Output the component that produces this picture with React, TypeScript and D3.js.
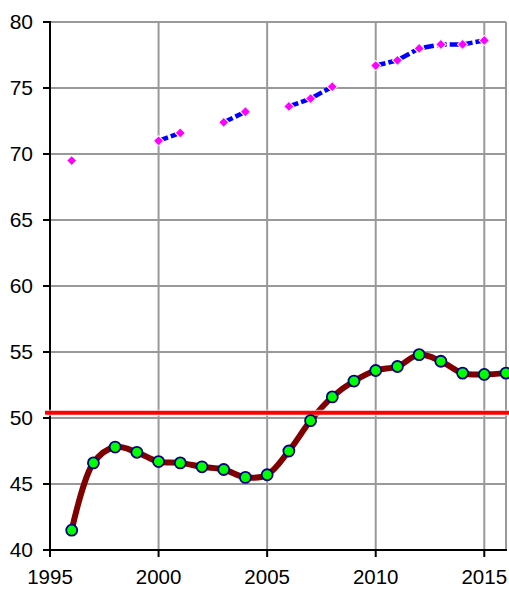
import React from 'react';
import * as d3 from 'd3';

// years on the x axis
const years = d3.range(1996, 2017);
// upper series (pink diamonds), null = no value that year
const upperValues: (number | null)[] = [69.5, null, null, null, 71.0, 71.6, null, 72.4, 73.2, null, 73.6, 74.2, 75.1, null, 76.7, 77.1, 78.0, 78.3, 78.3, 78.6, null];
// lower series (green circles, smoothed)
const lowerValues: number[] = [41.5, 46.6, 47.8, 47.4, 46.7, 46.6, 46.3, 46.1, 45.5, 45.7, 47.5, 49.8, 51.6, 52.8, 53.6, 53.9, 54.8, 54.3, 53.4, 53.3, 53.4];
// horizontal reference level
const refLevel = 50.4;
const xTicks = [1995, 2000, 2005, 2010, 2015];
const yTicks = [40, 45, 50, 55, 60, 65, 70, 75, 80];

const W = 509;
const H = 589;
const left = 50;
const right = 506;
const top = 22;
const bottom = 550;

export default function App() {
  const x = d3.scaleLinear().domain([1995, 2016]).range([left, right]);
  const y = d3.scaleLinear().domain([40, 80]).range([bottom, top]);

  const upper = years.map((yr, i) => ({ yr, v: upperValues[i] }));
  const lower = years.map((yr, i) => ({ yr, v: lowerValues[i] }));

  const upperLine = d3.line<{ yr: number; v: number | null }>()
    .defined(d => d.v != null)
    .x(d => x(d.yr))
    .y(d => y(d.v as number));

  const lowerLine = d3.line<{ yr: number; v: number }>()
    .x(d => x(d.yr))
    .y(d => y(d.v))
    .curve(d3.curveCatmullRom.alpha(0.5));

  // square turned 45 degrees
  const diamond = d3.symbol().type(d3.symbolSquare).size(52)();
  const font = "'Liberation Sans', Arial, sans-serif";

  return (
    <svg width={W} height={H} style={{ position: 'absolute', left: 0, top: 0, background: '#fff' }}>
      {/* grid */}
      <g stroke="#999" strokeWidth={2}>
        {yTicks.map(t => (
          <line key={'gy' + t} x1={left} x2={right} y1={y(t)} y2={y(t)} />
        ))}
        {xTicks.filter(t => t > 1995).map(t => (
          <line key={'gx' + t} x1={x(t)} x2={x(t)} y1={top} y2={bottom} />
        ))}
        <line x1={right} x2={right} y1={top} y2={bottom} />
      </g>

      {/* axes */}
      <g stroke="#000" strokeWidth={2}>
        <line x1={left} x2={left} y1={top - 1} y2={bottom + 1} />
        <line x1={left - 1} x2={right + 1} y1={bottom} y2={bottom} />
        {yTicks.map(t => (
          <line key={'ty' + t} x1={left - 7} x2={left} y1={y(t)} y2={y(t)} />
        ))}
        {xTicks.map(t => (
          <line key={'tx' + t} x1={x(t)} x2={x(t)} y1={bottom} y2={bottom + 7} />
        ))}
      </g>
      <g fontFamily={font} fill="#000">
        {yTicks.map(t => (
          <text key={'ly' + t} x={left - 17} y={y(t)} dy="0.35em" fontSize={21} textAnchor="end">{t}</text>
        ))}
        {xTicks.map(t => (
          <text key={'lx' + t} x={x(t)} y={bottom + 34} fontSize={20.5} textAnchor="middle">{t}</text>
        ))}
      </g>

      {/* lower smoothed series */}
      <path d={lowerLine(lower) || ''} fill="none" stroke="#800000" strokeWidth={6} strokeLinejoin="round" />

      {/* reference level */}
      <line x1={left - 5} x2={W} y1={y(refLevel)} y2={y(refLevel)} stroke="#fff" strokeWidth={6} opacity={0.7} />
      <line x1={left - 5} x2={W} y1={y(refLevel)} y2={y(refLevel)} stroke="#ff0000" strokeWidth={4} />

      {lower.map(d => (
        <circle key={'c' + d.yr} cx={x(d.yr)} cy={y(d.v)} r={5.5} fill="#00ff00" stroke="#000080" strokeWidth={1.8} />
      ))}

      {/* upper series */}
      <path d={upperLine(upper) || ''} fill="none" stroke="#0000ff" strokeWidth={4.5} strokeDasharray="10,3" />
      {upper.filter(d => d.v != null).map(d => (
        <path key={'d' + d.yr} d={diamond || ''} transform={`translate(${x(d.yr)},${y(d.v as number)}) rotate(45)`} fill="#ff00ff" stroke="#fff" strokeWidth={1} />
      ))}
    </svg>
  );
}
